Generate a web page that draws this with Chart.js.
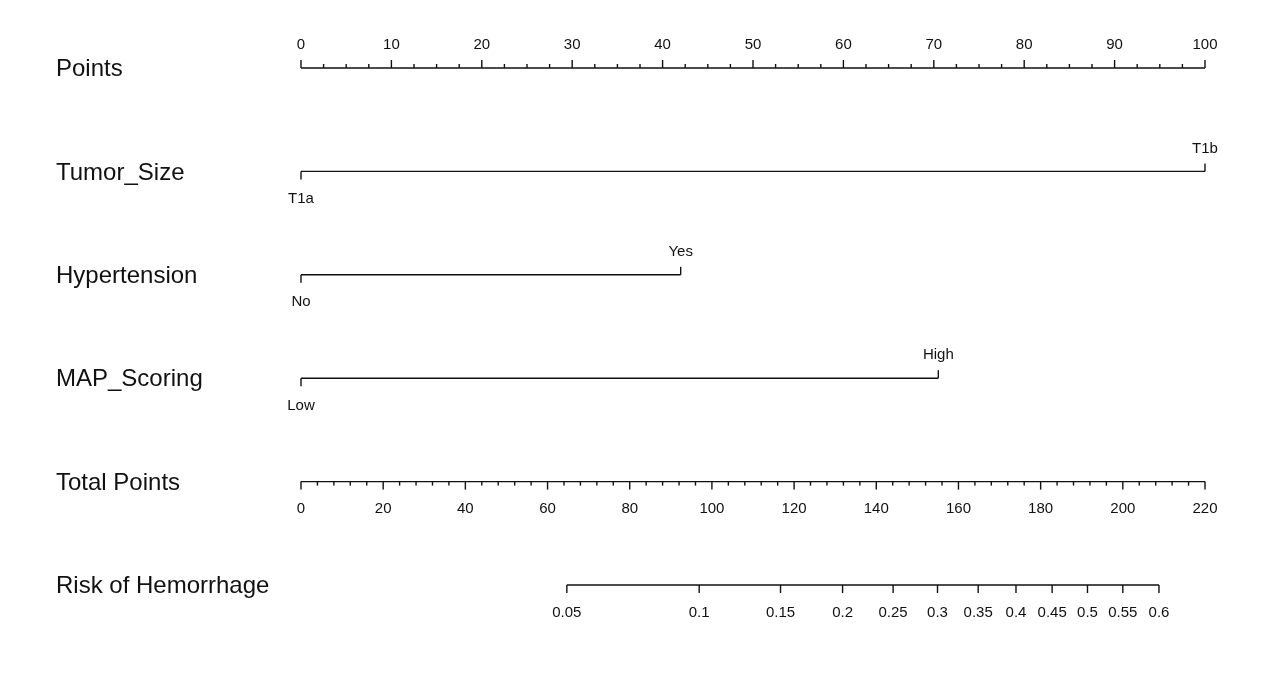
<!DOCTYPE html>
<html>
<head>
<meta charset="utf-8">
<script src="https://cdn.jsdelivr.net/npm/chart.js@4/dist/chart.umd.min.js"></script>
<style>
  html, body { margin: 0; padding: 0; background: #ffffff; }
  #wrap { width: 1270px; height: 681px; position: relative; }
</style>
</head>
<body>
<div id="wrap"><canvas id="c"></canvas></div>
<script>
// ---- data ----
const rowLabels = ['Points', 'Tumor_Size', 'Hypertension', 'MAP_Scoring', 'Total Points', 'Risk of Hemorrhage'];
const pointsTicks = [0, 10, 20, 30, 40, 50, 60, 70, 80, 90, 100];
const pointsMinorStep = 2.5;
const tumorLevels = ['T1a', 'T1b'];
const tumorPoints = [0, 100];
const hypertensionLevels = ['No', 'Yes'];
const hypertensionPoints = [0, 42];
const mapLevels = ['Low', 'High'];
const mapPoints = [0, 70.5];
const totalTicks = [0, 20, 40, 60, 80, 100, 120, 140, 160, 180, 200, 220];
const totalMinorStep = 4;
const riskLabels = ['0.05', '0.1', '0.15', '0.2', '0.25', '0.3', '0.35', '0.4', '0.45', '0.5', '0.55', '0.6'];
const riskTotalPoints = [64.7, 96.9, 116.7, 131.8, 144.1, 154.9, 164.8, 174.0, 182.8, 191.4, 200.0, 208.8];

const FONT = '"Liberation Sans", Arial, sans-serif';
const INK = '#111111';
const TITLE_SIZE = 24;
const TICK_SIZE = 15;

function seg(x0, x1, row, axisId) {
  return {
    data: [{x: x0, y: row}, {x: x1, y: row}],
    xAxisID: axisId,
    borderColor: INK,
    borderWidth: 1.4,
    pointRadius: 0,
    clip: false,
    tension: 0
  };
}

const datasets = [
  seg(pointsTicks[0], pointsTicks[pointsTicks.length - 1], 0, 'x'),
  seg(tumorPoints[0], tumorPoints[tumorPoints.length - 1], 1, 'x'),
  seg(hypertensionPoints[0], hypertensionPoints[hypertensionPoints.length - 1], 2, 'x'),
  seg(mapPoints[0], mapPoints[mapPoints.length - 1], 3, 'x'),
  seg(totalTicks[0], totalTicks[totalTicks.length - 1], 4, 'x2'),
  seg(riskTotalPoints[0], riskTotalPoints[riskTotalPoints.length - 1], 5, 'x2')
];

const nomogramPlugin = {
  id: 'nomogram',
  afterDatasetsDraw(chart) {
    const ctx = chart.ctx;
    const sx = chart.scales.x, sx2 = chart.scales.x2, sy = chart.scales.y;
    const MAJ = 8, MIN = 4, LAB = 23, LABB = 27.5;
    ctx.save();
    ctx.strokeStyle = INK;
    ctx.fillStyle = INK;
    ctx.lineWidth = 1.4;

    function tick(x, y, len) {
      ctx.beginPath();
      ctx.moveTo(x, y);
      ctx.lineTo(x, y + len);
      ctx.stroke();
    }
    function text(str, x, y, size, align) {
      ctx.font = size + 'px ' + FONT;
      ctx.textAlign = align || 'center';
      ctx.textBaseline = 'middle';
      ctx.fillText(str, x, y);
    }

    // row titles
    rowLabels.forEach((lab, i) => {
      text(lab, 56, sy.getPixelForValue(i) + 1.5, TITLE_SIZE, 'left');
    });

    // Points axis (ticks up, labels above)
    const y0 = sy.getPixelForValue(0);
    const pMin = pointsTicks[0], pMax = pointsTicks[pointsTicks.length - 1];
    for (let v = pMin; v <= pMax + 1e-9; v += pointsMinorStep) {
      const major = pointsTicks.indexOf(v) !== -1;
      tick(sx.getPixelForValue(v), y0, -(major ? MAJ : MIN));
    }
    pointsTicks.forEach(v => text(String(v), sx.getPixelForValue(v), y0 - LAB, TICK_SIZE));

    // categorical predictors
    const cats = [
      [tumorLevels, tumorPoints, 1],
      [hypertensionLevels, hypertensionPoints, 2],
      [mapLevels, mapPoints, 3]
    ];
    cats.forEach(([levels, pts, row]) => {
      const y = sy.getPixelForValue(row);
      levels.forEach((lab, k) => {
        const x = sx.getPixelForValue(pts[k]);
        if (k % 2 === 0) {
          tick(x, y, MAJ);
          text(lab, x, y + LABB, TICK_SIZE);
        } else {
          tick(x, y, -MAJ);
          text(lab, x, y - LAB, TICK_SIZE);
        }
      });
    });

    // Total points axis (ticks down, labels below)
    const y4 = sy.getPixelForValue(4);
    const tMin = totalTicks[0], tMax = totalTicks[totalTicks.length - 1];
    for (let v = tMin; v <= tMax + 1e-9; v += totalMinorStep) {
      const major = totalTicks.indexOf(v) !== -1;
      tick(sx2.getPixelForValue(v), y4, major ? MAJ : MIN);
    }
    totalTicks.forEach(v => text(String(v), sx2.getPixelForValue(v), y4 + LABB, TICK_SIZE));

    // Risk axis
    const y5 = sy.getPixelForValue(5);
    riskTotalPoints.forEach((v, i) => {
      const x = sx2.getPixelForValue(v);
      tick(x, y5, MAJ);
      text(riskLabels[i], x, y5 + LABB, TICK_SIZE);
    });

    ctx.restore();
  }
};

new Chart(document.getElementById('c'), {
  type: 'line',
  data: { datasets },
  options: {
    responsive: true,
    maintainAspectRatio: false,
    animation: false,
    events: [],
    layout: { padding: { left: 301, right: 65, top: 68, bottom: 96 } },
    plugins: { legend: { display: false }, tooltip: { enabled: false } },
    scales: {
      x: { type: 'linear', axis: 'x', min: pointsTicks[0], max: pointsTicks[pointsTicks.length - 1], display: false },
      x2: { type: 'linear', axis: 'x', min: totalTicks[0], max: totalTicks[totalTicks.length - 1], display: false },
      y: { type: 'linear', min: 0, max: rowLabels.length - 1, reverse: true, display: false }
    }
  },
  plugins: [nomogramPlugin]
});
</script>
</body>
</html>
